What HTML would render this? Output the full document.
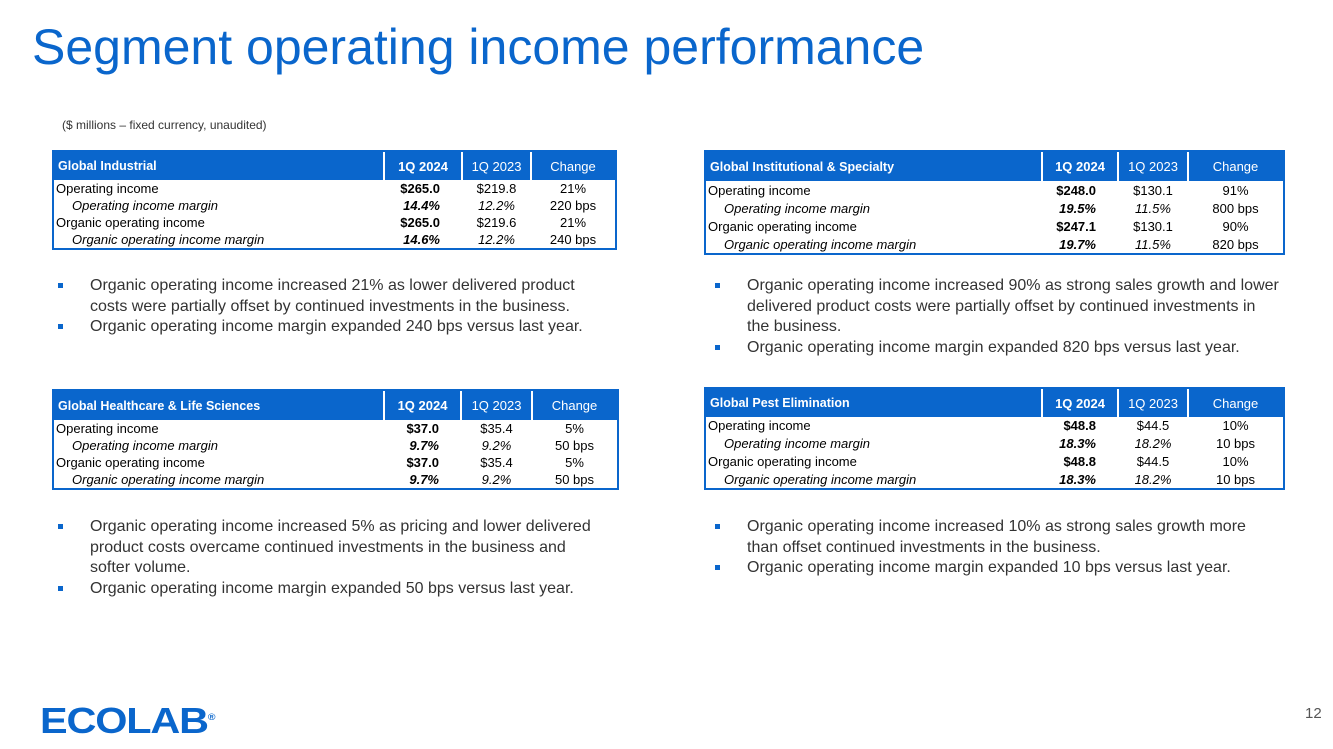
<!DOCTYPE html>
<html><head><meta charset="utf-8"><style>
body{margin:0;width:1333px;height:749px;background:#fff;font-family:"Liberation Sans",Arial,sans-serif;position:relative;overflow:hidden}
.t{position:absolute;border:2px solid #0a66cc;box-sizing:border-box;background:#fff}
.hd{position:absolute;left:0;right:0;top:0;background:#0a66cc;color:#fff;font-size:13px}
.hd div{position:absolute;top:0;bottom:0;display:flex;align-items:center;justify-content:center}
.sep{position:absolute;top:0;width:2px;background:#fff}
.r{position:absolute;left:0;right:0;font-size:13px;color:#000;display:flex;align-items:center}
.r span{position:absolute}
.bl{position:absolute;font-size:16px;color:#333;line-height:20.5px}
.bl div{position:relative;padding-left:36px}
.bl div:before{content:"";position:absolute;left:4px;top:7px;width:5px;height:5px;background:#0a66cc}
</style></head><body>
<div style="position:absolute;left:32px;top:18px;font-size:50px;color:#0a66cc">Segment operating income performance</div>
<div style="position:absolute;left:62px;top:118px;font-size:12px;color:#333">($ millions – fixed currency, unaudited)</div>
<div id="root"></div>
<div class="bl" style="left:54px;top:276px;width:560px"><div>Organic operating income increased 21% as lower delivered product costs were partially offset by continued investments in the business.</div><div>Organic operating income margin expanded 240 bps versus last year.</div></div>
<div class="bl" style="left:711px;top:276px;width:570px"><div>Organic operating income increased 90% as strong sales growth and lower delivered product costs were partially offset by continued investments in the business.</div><div>Organic operating income margin expanded 820 bps versus last year.</div></div>
<div class="bl" style="left:54px;top:517px;width:550px"><div>Organic operating income increased 5% as pricing and lower delivered product costs overcame continued investments in the business and softer volume.</div><div>Organic operating income margin expanded 50 bps versus last year.</div></div>
<div class="bl" style="left:711px;top:517px;width:560px"><div>Organic operating income increased 10% as strong sales growth more than offset continued investments in the business.</div><div>Organic operating income margin expanded 10 bps versus last year.</div></div>
<div style="position:absolute;left:40px;top:700px;font-size:36px;font-weight:900;color:#0a66cc;letter-spacing:-1px;transform:scaleX(1.15);transform-origin:left">ECOLAB<sup style="font-size:9px">®</sup></div>
<div style="position:absolute;left:1305px;top:705px;font-size:15px;color:#555">12</div>
<script>
const titles=["Global Industrial","Global Institutional & Specialty","Global Healthcare & Life Sciences","Global Pest Elimination"];
const labels=["Operating income","Operating income margin","Organic operating income","Organic operating income margin"];
const cur=[["$265.0","14.4%","$265.0","14.6%"],["$248.0","19.5%","$247.1","19.7%"],["$37.0","9.7%","$37.0","9.7%"],["$48.8","18.3%","$48.8","18.3%"]];
const prev=[["$219.8","12.2%","$219.6","12.2%"],["$130.1","11.5%","$130.1","11.5%"],["$35.4","9.2%","$35.4","9.2%"],["$44.5","18.2%","$44.5","18.2%"]];
const chg=[["21%","220 bps","21%","240 bps"],["91%","800 bps","90%","820 bps"],["5%","50 bps","5%","50 bps"],["10%","10 bps","10%","10 bps"]];
const geo=[{x:52,y:150,w:565,h:100,hh:28,c:[330,408,477]},{x:704,y:150,w:581,h:105,hh:29,c:[336,412,482]},{x:52,y:389,w:567,h:101,hh:29,c:[330,407,478]},{x:704,y:387,w:581,h:103,hh:28,c:[336,412,482]}];
const root=document.getElementById('root');
geo.forEach((g,i)=>{
  const t=document.createElement('div');t.className='t';
  
  
  t.style.cssText=`left:${g.x}px;top:${g.y}px;width:${g.w}px;height:${g.h}px`;
  const hd=document.createElement('div');hd.className='hd';hd.style.height=g.hh+'px';
  
  
  const inner=g.w-4;
  const edges=[0,...g.c,inner];
  const heads=[titles[i],"1Q 2024","1Q 2023","Change"];
  heads.forEach((h,k)=>{const d=document.createElement('div');d.textContent=h;
    
    
    d.style.left=edges[k]+'px';d.style.width=(edges[k+1]-edges[k])+'px';
    if(k==0){d.style.justifyContent='flex-start';d.style.paddingLeft='4px';d.style.fontWeight='bold';d.style.fontSize='12.5px'}
    if(k==1)d.style.fontWeight='bold';hd.appendChild(d)});
  g.c.forEach(cx=>{const s=document.createElement('div');s.className='sep';s.style.left=(cx-1)+'px';s.style.height=g.hh+'px';hd.appendChild(s)});
  t.appendChild(hd);
  const rh=(g.h-4-g.hh)/4;
  for(let r=0;r<4;r++){
    const row=document.createElement('div');row.className='r';
    
    
    row.style.top=(g.hh+r*rh)+'px';row.style.height=rh+'px';
    const it=r%2==1;
    const l=document.createElement('span');l.textContent=labels[r];l.style.left=(it?18:2)+'px';if(it)l.style.fontStyle='italic';row.appendChild(l);
    const a=document.createElement('span');a.textContent=cur[i][r];a.style.fontWeight='bold';a.style.right=(inner-g.c[1]+22)+'px';if(it)a.style.fontStyle='italic';row.appendChild(a);
    const b=document.createElement('span');b.textContent=prev[i][r];b.style.left=g.c[1]+'px';b.style.width=(g.c[2]-g.c[1])+'px';b.style.textAlign='center';if(it)b.style.fontStyle='italic';row.appendChild(b);
    const c=document.createElement('span');c.textContent=chg[i][r];c.style.left=g.c[2]+'px';c.style.width=(inner-g.c[2])+'px';c.style.textAlign='center';row.appendChild(c);
    t.appendChild(row);
  }
  root.appendChild(t);
});
</script>
</body></html>
